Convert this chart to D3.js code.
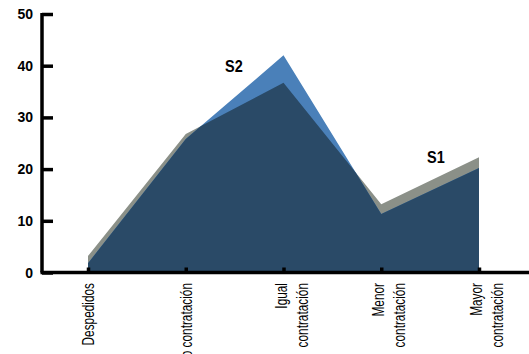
<!DOCTYPE html>
<html><head><meta charset="utf-8">
<script src="https://cdn.jsdelivr.net/npm/d3@7/dist/d3.min.js"></script>
<style>
html,body{margin:0;padding:0;background:#fff;}
svg{display:block;}
</style></head>
<body>
<svg id="chart" width="529" height="354"></svg>
<script>
const categories = [["Despedidos"], ["Congelamiento contratación"], ["Igual", "contratación"], ["Menor", "contratación"], ["Mayor", "contratación"]];
const s1Values = [3.2, 26.8, 36.7, 13.2, 22.3];
const s2Values = [1.8, 25.8, 42.0, 11.3, 20.2];
const yTicks = [0, 10, 20, 30, 40, 50];
const seriesLabels = ["S1", "S2"];

const svg = d3.select("#chart");
const x = d3.scalePoint().domain(d3.range(categories.length)).range([88, 479]);
const y = d3.scaleLinear().domain([0, 50]).range([272.5, 14]);

const area = vals => d3.area().x((d, i) => x(i)).y0(y(0)).y1(d => y(d))(vals);

const defs = svg.append("defs");
defs.append("clipPath").attr("id", "clipS2").append("path").attr("d", area(s2Values));

svg.append("path").attr("d", area(s1Values)).attr("fill", "#8b9088");
svg.append("path").attr("d", area(s2Values)).attr("fill", "#4a80b9");
svg.append("path").attr("d", area(s1Values)).attr("fill", "#2a4a67").attr("clip-path", "url(#clipS2)");

const font = "'Liberation Sans', Arial, sans-serif";

// Y axis
const yAxis = svg.append("g").attr("transform", "translate(42,0)")
  .call(d3.axisRight(y).tickValues(yTicks).tickSize(11).tickFormat(""));
yAxis.select(".domain").attr("stroke", "#000").attr("stroke-width", 3.5).attr("d", `M0,${y(50)-1}V${y(0)}`);
yAxis.selectAll(".tick line").attr("stroke", "#000").attr("stroke-width", 3.5);
svg.append("g").selectAll("text").data(yTicks).join("text")
  .attr("x", 33).attr("y", d => y(d)).attr("dy", "0.36em")
  .attr("text-anchor", "end")
  .attr("font-family", font)
  .attr("font-weight", "bold").attr("font-size", 14).attr("fill", "#000")
  .text(d => d);

// X axis
const xAxis = svg.append("g").attr("transform", `translate(0,${y(0)})`)
  .call(d3.axisTop(x).tickSize(5).tickFormat(""));
xAxis.select(".domain").attr("stroke", "#000").attr("stroke-width", 3.5).attr("d", "M40.5,0H529");
xAxis.selectAll(".tick line").attr("stroke", "#000").attr("stroke-width", 3.5);

const lab = svg.append("g").selectAll("g").data(categories).join("g")
  .attr("transform", (d, i) => `translate(${x(i)},283) rotate(-90)`);
lab.each(function(lines) {
  const g = d3.select(this);
  lines.forEach((t, j) => {
    const off = lines.length === 1 ? 6 : 3 + j * 21;
    g.append("text").attr("transform", `translate(0,${off}) scale(0.74,1)`)
      .attr("text-anchor", "end")
      .attr("font-family", font)
      .attr("font-size", 16).attr("fill", "#000")
      .text(t);
  });
});

// Series labels
svg.append("text").attr("transform", "translate(427,163) scale(0.85,1)").attr("font-family", font)
  .attr("font-weight", "bold").attr("font-size", 17).text(seriesLabels[0]);
svg.append("text").attr("transform", "translate(225,72) scale(0.85,1)").attr("font-family", font)
  .attr("font-weight", "bold").attr("font-size", 17).text(seriesLabels[1]);
</script>
</body></html>
